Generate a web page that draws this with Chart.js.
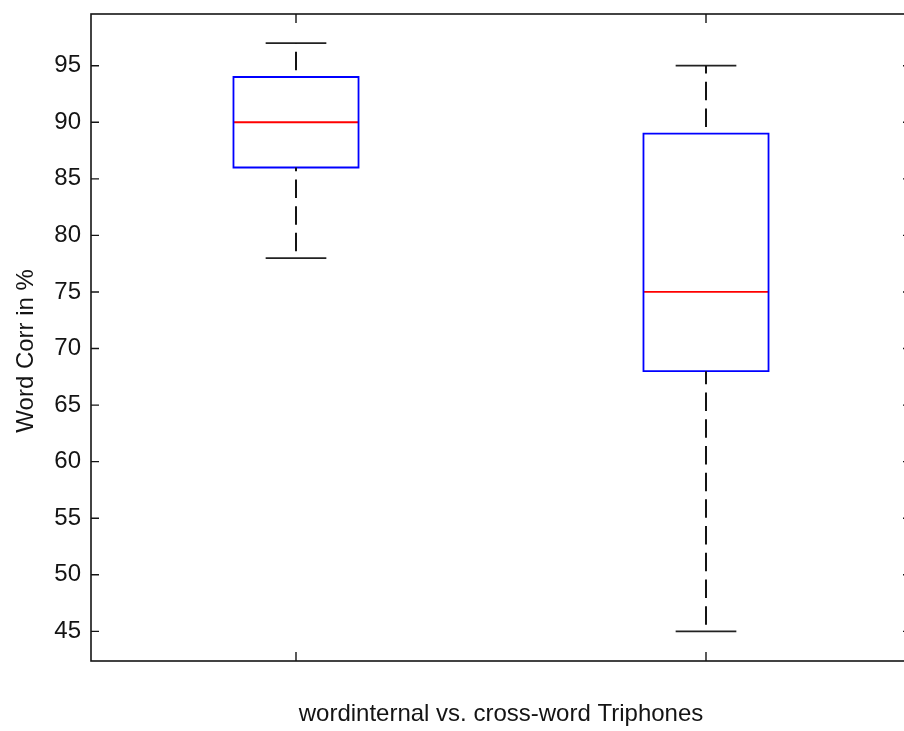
<!DOCTYPE html>
<html>
<head>
<meta charset="utf-8">
<script src="https://cdn.jsdelivr.net/npm/chart.js@4.4.1/dist/chart.umd.min.js"></script>
<style>
  html, body { margin: 0; padding: 0; background: #fff; overflow: hidden; }
  #wrap { width: 920px; height: 731px; }
</style>
</head>
<body>
<div id="wrap"><canvas id="c" width="920" height="731"></canvas></div>
<script>
// Word correctness (%) of the word-internal and cross-word triphone systems
const positions   = [1, 2];
const whiskerLow  = [78, 45];
const quartile1   = [86, 68];
const medians     = [90, 75];
const quartile3   = [94, 89];
const whiskerHigh = [97, 95];
const yTicks = [45, 50, 55, 60, 65, 70, 75, 80, 85, 90, 95];
const xLabel = 'wordinternal vs. cross-word Triphones';
const yLabel = 'Word Corr in %';

const BOX_HALF = 0.1525;   // half box width in x units
const CAP_HALF = 0.074;    // half whisker-cap width in x units
const FONT = "'Liberation Sans', Arial, sans-serif";
const INK = '#141414';

function lineSet(points, color, width, extra) {
  return Object.assign({
    data: points,
    showLine: true,
    borderColor: color,
    borderWidth: width,
    pointRadius: 0,
    pointHoverRadius: 0,
    fill: false,
    tension: 0
  }, extra || {});
}

const datasets = [];
positions.forEach((x, i) => {
  // dashed whiskers, drawn from the lower value to the higher one
  const dash = { borderDash: [18.5, 8.2], borderDashOffset: 20 };
  datasets.push(lineSet([{x, y: whiskerLow[i]}, {x, y: quartile1[i]}], INK, 2, dash));
  datasets.push(lineSet([{x, y: quartile3[i]}, {x, y: whiskerHigh[i]}], INK, 2, dash));
  // whisker caps
  datasets.push(lineSet([{x: x - CAP_HALF, y: whiskerLow[i]}, {x: x + CAP_HALF, y: whiskerLow[i]}], '#222', 1.8));
  datasets.push(lineSet([{x: x - CAP_HALF, y: whiskerHigh[i]}, {x: x + CAP_HALF, y: whiskerHigh[i]}], '#222', 1.8));
  // box
  datasets.push(lineSet([
    {x: x - BOX_HALF, y: quartile1[i]}, {x: x + BOX_HALF, y: quartile1[i]},
    {x: x + BOX_HALF, y: quartile3[i]}, {x: x - BOX_HALF, y: quartile3[i]},
    {x: x - BOX_HALF, y: quartile1[i]}
  ], '#0000ff', 1.8, { borderCapStyle: 'square', borderJoinStyle: 'miter' }));
  // median
  datasets.push(lineSet([{x: x - BOX_HALF, y: medians[i]}, {x: x + BOX_HALF, y: medians[i]}], '#ff0000', 1.8));
});

// axes frame with inward tick marks on all four sides
const framePlugin = {
  id: 'frame',
  afterDraw(chart) {
    const {ctx, chartArea: a, scales} = chart;
    const xs = scales.x, ys = scales.y;
    ctx.save();
    ctx.strokeStyle = INK;
    ctx.lineWidth = 1.6;
    ctx.strokeRect(a.left, a.top, a.right - a.left, a.bottom - a.top);
    ctx.lineWidth = 1.4;
    ctx.beginPath();
    yTicks.forEach(v => {
      const py = ys.getPixelForValue(v);
      ctx.moveTo(a.left, py);  ctx.lineTo(a.left + 8, py);
      ctx.moveTo(a.right, py); ctx.lineTo(a.right - 8, py);
    });
    positions.forEach(v => {
      const px = xs.getPixelForValue(v);
      ctx.moveTo(px, a.top);    ctx.lineTo(px, a.top + 9);
      ctx.moveTo(px, a.bottom); ctx.lineTo(px, a.bottom - 9);
    });
    ctx.stroke();
    ctx.restore();
  }
};

new Chart(document.getElementById('c'), {
  type: 'scatter',
  data: { datasets },
  options: {
    responsive: false,
    animation: false,
    events: [],
    layout: { padding: { left: 0, right: 9, top: 14, bottom: 0 } },
    plugins: { legend: { display: false }, tooltip: { enabled: false } },
    scales: {
      x: {
        type: 'linear',
        min: 0.5,
        max: 2.5,
        grid: { display: false, drawTicks: false },
        border: { display: false },
        ticks: { display: false },
        title: {
          display: true,
          text: xLabel,
          color: INK,
          font: { family: FONT, size: 24 },
          padding: { top: 0, bottom: 2 }
        },
        afterFit(s) { s.height = 70; s.paddingLeft = 0; s.paddingRight = 0; }
      },
      y: {
        type: 'linear',
        min: 42.38,
        max: 99.57,
        grid: { display: false, drawTicks: false },
        border: { display: false },
        afterBuildTicks(s) { s.ticks = yTicks.map(v => ({ value: v })); },
        ticks: {
          color: INK,
          padding: 10,
          font: { family: FONT, size: 24 }
        },
        title: {
          display: true,
          text: yLabel + '    ',
          color: INK,
          font: { family: FONT, size: 24 },
          padding: { top: 11.5, bottom: 0 }
        },
        afterFit(s) { s.width = 91; s.paddingTop = 0; s.paddingBottom = 0; }
      }
    }
  },
  plugins: [framePlugin]
});
</script>
</body>
</html>
